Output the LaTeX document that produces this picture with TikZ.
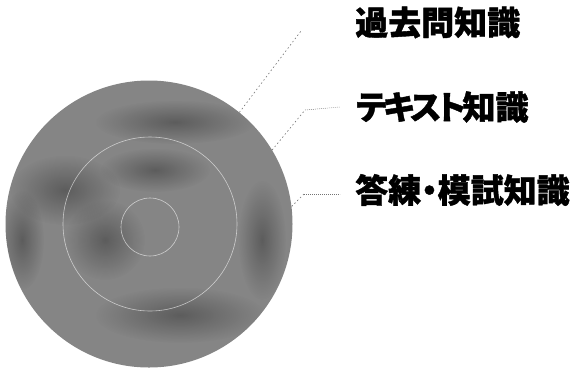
\documentclass[tikz,border=0pt]{standalone}
\usepackage{fontspec}
\newfontfamily\jp{Noto Sans CJK JP}[RawFeature=+palt, BoldFeatures={FakeBold=1.2}]
\usetikzlibrary{fadings}
\tikzfading[name=softedge, inner color=transparent!0, outer color=transparent!100]
\tikzset{
  label/.style={font=\jp\bfseries\fontsize{33}{33}\selectfont, inner sep=0pt, anchor=west, text=black},
  leader/.style={draw=black!55, line width=0.6pt, dash pattern=on 1.5pt off 2.5pt},
  flat/.style={draw=black!55, line width=0.5pt, dash pattern=on 0.8pt off 1.2pt},
  ring/.style={draw=white, draw opacity=0.6, line width=0.6pt},
  patch/.style={fill=black, fill opacity=0.3, path fading=softedge},
}
\begin{document}
\begin{tikzpicture}[x=1pt,y=-1pt]
\useasboundingbox (0,0) rectangle (572,368);
% disc
\node[circle, minimum size=287pt, inner sep=0pt, fill=black!48] (disc) at (149,224) {};
\begin{scope}
  \clip (149,224) circle (143.5);
  \fill[patch] (175,122) ellipse (80 and 22);
  \fill[patch] (65,190) ellipse (55 and 35);
  \fill[patch] (105,240) ellipse (40 and 40);
  \fill[patch] (262,240) ellipse (24 and 60);
  \fill[patch] (180,315) ellipse (85 and 28);
  \fill[patch] (22,240) ellipse (22 and 50);
  \fill[patch] (155,170) ellipse (55 and 22);
\end{scope}
\node[circle, minimum size=174pt, inner sep=0pt, ring] (mid) at (150,224) {};
\node[circle, minimum size=58pt, inner sep=0pt, ring] (core) at (150,227) {};
% labels
\node[label] (t1) at (355,22.5) {過去問知識};
\node[label] (t2) at (356,107) {テ\kern-3.4ptキ\kern-3.4ptス\kern-3.4ptト\kern-3pt 知識};
\node[label] (t3) at (355,190) {答練・模試知識};
% leaders
\coordinate (k1) at (301,31);
\coordinate (k2) at (305,110);
\coordinate (k3) at (304,194);
\draw[leader] (disc.51.6) -- (k1);
\draw[leader] (disc.31.6) -- (k2);
\draw[flat] (k2) -- ([xshift=-16pt]t2.west);
\draw[leader] (disc.7) -- (k3);
\draw[flat] (k3) -- ([xshift=-15pt]t3.west |- k3);
\end{tikzpicture}
\end{document}
